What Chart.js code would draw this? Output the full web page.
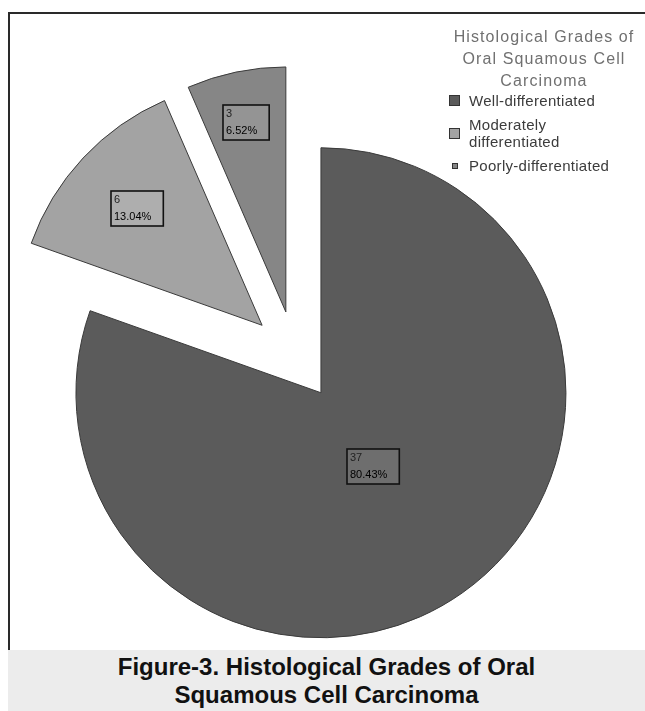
<!DOCTYPE html>
<html>
<head>
  <meta charset="utf-8">
  <title>Histological Grades of Oral Squamous Cell Carcinoma</title>
  <script src="https://cdn.jsdelivr.net/npm/chart.js@4.4.1/dist/chart.umd.min.js"></script>
  <style>
    html, body {
      margin: 0;
      padding: 0;
      background: #fff;
    }
    #page {
      position: relative;
      width: 645px;
      height: 711px;
      overflow: hidden;
      font-family: "Liberation Sans", Arial, sans-serif;
    }
    #frame {
      position: absolute;
      left: 8px;
      top: 12px;
      width: 637px;
      height: 638px;
      border-top: 2px solid #2a2a2a;
      border-left: 2px solid #2a2a2a;
      box-sizing: border-box;
    }
    #chart-box {
      position: absolute;
      left: 0;
      top: 0;
      width: 645px;
      height: 650px;
    }
    #legend {
      position: absolute;
      left: 446px;
      top: 26px;
      width: 196px;
    }
    .legend-title {
      text-align: center;
      color: #707070;
      font-size: 16px;
      line-height: 22px;
      letter-spacing: 1.1px;
    }
    .legend-item {
      display: flex;
      align-items: center;
      margin-top: 7px;
    }
    .legend-item.first {
      margin-top: 0;
    }
    .swatch-cell {
      width: 17px;
      display: flex;
      justify-content: center;
    }
    .swatch {
      border: 1px solid #333;
      box-sizing: border-box;
    }
    .legend-text {
      width: 150px;
      padding-left: 6px;
      color: #3c3c3c;
      font-size: 15px;
      line-height: 17px;
      letter-spacing: 0.3px;
    }
    #caption {
      position: absolute;
      left: 8px;
      top: 650px;
      width: 637px;
      height: 61px;
      background: #ececec;
      text-align: center;
      font-weight: bold;
      font-size: 24px;
      line-height: 28px;
      color: #111;
      padding-top: 3px;
      box-sizing: border-box;
    }
  </style>
</head>
<body>
  <div id="page">
    <div id="frame"></div>
    <div id="chart-box"><canvas id="chart"></canvas></div>
    <div id="legend"></div>
    <div id="caption">Figure-3. Histological Grades of Oral<br>Squamous Cell Carcinoma</div>
  </div>

  <script>
    // data
    const legendTitle = ['Histological Grades of', 'Oral Squamous Cell', 'Carcinoma'];
    const categories = ['Well-differentiated', 'Moderately differentiated', 'Poorly-differentiated'];
    const counts = [37, 6, 3];

    // styling
    const sliceColors = ['#5b5b5b', '#a3a3a3', '#868686'];
    const swatchSizes = [11, 11, 6];
    const explodeDist = 45;
    const labelFrac = [0.37, 0.7, 0.79];

    const total = counts.reduce((a, b) => a + b, 0);

    // legend
    const legend = document.getElementById('legend');
    let html = legendTitle.map(t => `<div class="legend-title">${t}</div>`).join('');
    categories.forEach((c, i) => {
      const s = swatchSizes[i];
      html += `<div class="legend-item${i === 0 ? ' first' : ''}"><div class="swatch-cell"><div class="swatch" style="width:${s}px;height:${s}px;background:${sliceColors[i]}"></div></div><div class="legend-text">${c}</div></div>`;
    });
    legend.innerHTML = html;

    // draws every slice pulled out along its middle angle, then the count/percent boxes
    const explodePlugin = {
      id: 'explode',
      beforeDatasetsDraw(chart) {
        const ctx = chart.ctx;
        const meta = chart.getDatasetMeta(0);
        meta.data.forEach(arc => {
          const mid = (arc.startAngle + arc.endAngle) / 2;
          ctx.save();
          ctx.translate(Math.cos(mid) * explodeDist, Math.sin(mid) * explodeDist);
          arc.draw(ctx);
          ctx.restore();
        });

        ctx.save();
        ctx.font = '11px "Liberation Sans", Arial, sans-serif';
        ctx.textBaseline = 'middle';
        ctx.textAlign = 'left';
        meta.data.forEach((arc, i) => {
          const mid = (arc.startAngle + arc.endAngle) / 2;
          const r = explodeDist + arc.outerRadius * labelFrac[i];
          const cx = arc.x + Math.cos(mid) * r;
          const cy = arc.y + Math.sin(mid) * r;
          const pct = (counts[i] / total * 100).toFixed(2) + '%';
          const w = Math.max(ctx.measureText(pct).width, ctx.measureText(String(counts[i])).width) + 15;
          const h = 35;
          const x0 = Math.round(cx - w / 2);
          const y0 = Math.round(cy - h / 2);
          ctx.fillStyle = 'rgba(255,255,255,0.12)';
          ctx.fillRect(x0, y0, w, h);
          ctx.strokeStyle = '#111';
          ctx.lineWidth = 1.6;
          ctx.strokeRect(x0, y0, w, h);
          ctx.fillStyle = '#222';
          ctx.fillText(String(counts[i]), x0 + 3, y0 + 9);
          ctx.fillStyle = '#000';
          ctx.fillText(pct, x0 + 3, y0 + 26);
        });
        ctx.restore();
        return false;
      }
    };

    new Chart(document.getElementById('chart'), {
      type: 'pie',
      data: {
        labels: categories,
        datasets: [{
          data: counts,
          backgroundColor: sliceColors,
          borderColor: '#3a3a3a',
          borderWidth: 1,
          radius: 245
        }]
      },
      options: {
        responsive: true,
        maintainAspectRatio: false,
        animation: false,
        events: [],
        layout: {
          padding: { top: 62, right: 55, left: 0, bottom: 0 }
        },
        plugins: {
          legend: { display: false },
          tooltip: { enabled: false }
        }
      },
      plugins: [explodePlugin]
    });
  </script>
</body>
</html>
